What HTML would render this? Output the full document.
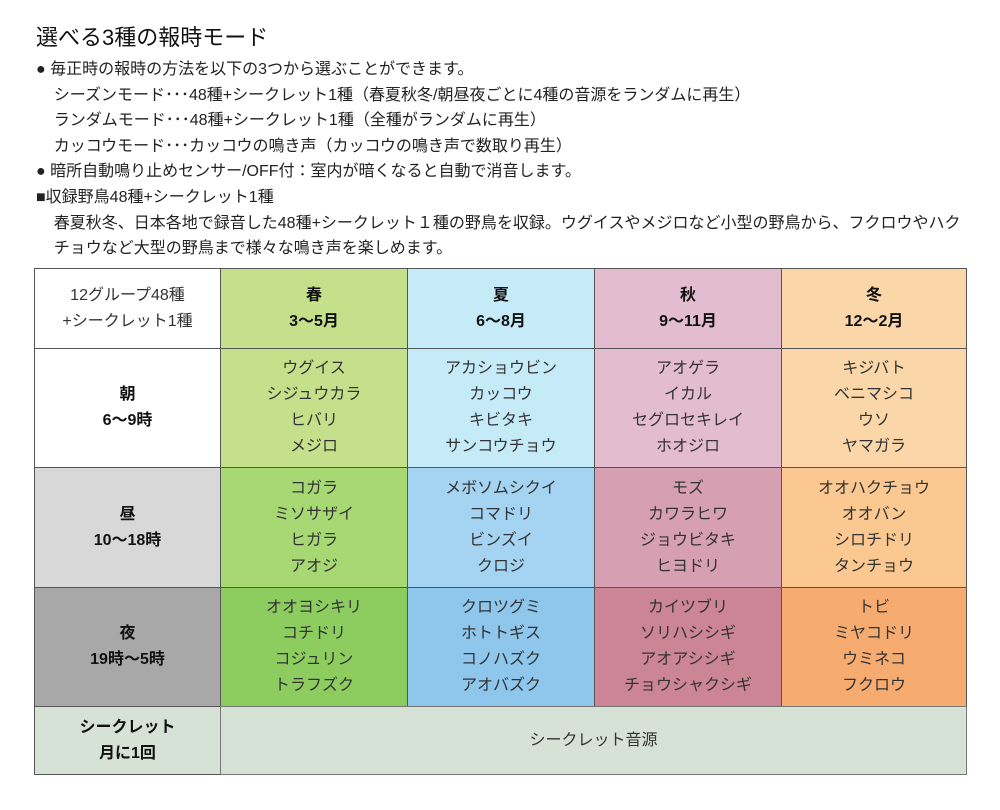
<!DOCTYPE html>
<html><head><meta charset="utf-8"><style>
body{margin:0;width:1000px;height:810px;background:#fff;position:relative;overflow:hidden;font-family:"Liberation Sans","Noto Sans CJK JP",sans-serif;color:#222}
.t{position:absolute;white-space:nowrap}
.c{position:absolute;box-sizing:border-box;border:1px solid #555;display:flex;flex-direction:column;justify-content:center;align-items:center;font-size:16px;line-height:26px;text-align:center;color:#333}
.b{font-weight:bold;color:#111}
</style></head><body>
<div class="t" style="left:36px;top:20px;font-size:22px;color:#111">選べる3種の報時モード</div>
<div class="t" style="left:36px;top:57px;font-size:16px;line-height:25.6px;color:#222">
● 毎正時の報時の方法を以下の3つから選ぶことができます。<br>
&nbsp;&nbsp;&nbsp;&nbsp;シーズンモード･･･48種+シークレット1種（春夏秋冬/朝昼夜ごとに4種の音源をランダムに再生）<br>
&nbsp;&nbsp;&nbsp;&nbsp;ランダムモード･･･48種+シークレット1種（全種がランダムに再生）<br>
&nbsp;&nbsp;&nbsp;&nbsp;カッコウモード･･･カッコウの鳴き声（カッコウの鳴き声で数取り再生）<br>
● 暗所自動鳴り止めセンサー/OFF付：室内が暗くなると自動で消音します。<br>
■収録野鳥48種+シークレット1種<br>
&nbsp;&nbsp;&nbsp;&nbsp;春夏秋冬、日本各地で録音した48種+シークレット１種の野鳥を収録。ウグイスやメジロなど小型の野鳥から、フクロウやハク<br>
&nbsp;&nbsp;&nbsp;&nbsp;チョウなど大型の野鳥まで様々な鳴き声を楽しめます。</div>

<div class="c" style="left:34px;top:268px;width:187px;height:81px;background:#fff">12グループ48種<br>+シークレット1種</div>
<div class="c b" style="left:220px;top:268px;width:188px;height:81px;background:#c5e08a">春<br>3～5月</div>
<div class="c b" style="left:407px;top:268px;width:188px;height:81px;background:#c6ebf8">夏<br>6～8月</div>
<div class="c b" style="left:594px;top:268px;width:188px;height:81px;background:#e4bcd0">秋<br>9～11月</div>
<div class="c b" style="left:781px;top:268px;width:186px;height:81px;background:#fbd6a9">冬<br>12～2月</div>

<div class="c b" style="left:34px;top:348px;width:187px;height:120px;background:#fff">朝<br>6～9時</div>
<div class="c" style="left:220px;top:348px;width:188px;height:120px;background:#c5e08a">ウグイス<br>シジュウカラ<br>ヒバリ<br>メジロ</div>
<div class="c" style="left:407px;top:348px;width:188px;height:120px;background:#c6ebf8">アカショウビン<br>カッコウ<br>キビタキ<br>サンコウチョウ</div>
<div class="c" style="left:594px;top:348px;width:188px;height:120px;background:#e4bcd0">アオゲラ<br>イカル<br>セグロセキレイ<br>ホオジロ</div>
<div class="c" style="left:781px;top:348px;width:186px;height:120px;background:#fbd6a9">キジバト<br>ベニマシコ<br>ウソ<br>ヤマガラ</div>

<div class="c b" style="left:34px;top:467px;width:187px;height:121px;background:#d8d8d8">昼<br>10～18時</div>
<div class="c" style="left:220px;top:467px;width:188px;height:121px;background:#a7d874">コガラ<br>ミソサザイ<br>ヒガラ<br>アオジ</div>
<div class="c" style="left:407px;top:467px;width:188px;height:121px;background:#a5d4f2">メボソムシクイ<br>コマドリ<br>ビンズイ<br>クロジ</div>
<div class="c" style="left:594px;top:467px;width:188px;height:121px;background:#d7a0b2">モズ<br>カワラヒワ<br>ジョウビタキ<br>ヒヨドリ</div>
<div class="c" style="left:781px;top:467px;width:186px;height:121px;background:#fac890">オオハクチョウ<br>オオバン<br>シロチドリ<br>タンチョウ</div>

<div class="c b" style="left:34px;top:587px;width:187px;height:120px;background:#a8a8a8">夜<br>19時～5時</div>
<div class="c" style="left:220px;top:587px;width:188px;height:120px;background:#8dcd5f">オオヨシキリ<br>コチドリ<br>コジュリン<br>トラフズク</div>
<div class="c" style="left:407px;top:587px;width:188px;height:120px;background:#8ec6ec">クロツグミ<br>ホトトギス<br>コノハズク<br>アオバズク</div>
<div class="c" style="left:594px;top:587px;width:188px;height:120px;background:#cb8595">カイツブリ<br>ソリハシシギ<br>アオアシシギ<br>チョウシャクシギ</div>
<div class="c" style="left:781px;top:587px;width:186px;height:120px;background:#f6ac70">トビ<br>ミヤコドリ<br>ウミネコ<br>フクロウ</div>

<div class="c b" style="left:34px;top:706px;width:187px;height:69px;background:#d6e2d6">シークレット<br>月に1回</div>
<div class="c" style="left:220px;top:706px;width:747px;height:69px;background:#d6e2d6;border-color:#777">シークレット音源</div>
</body></html>
